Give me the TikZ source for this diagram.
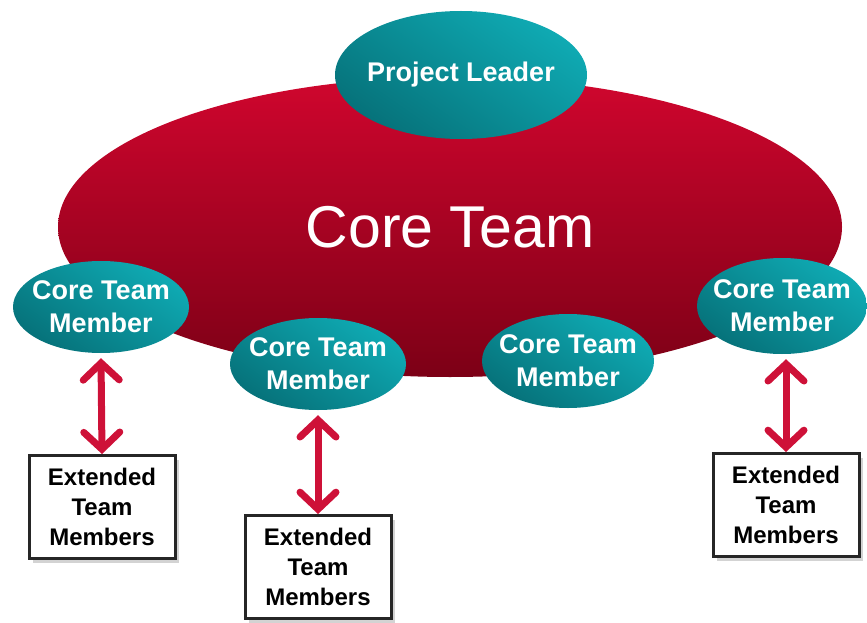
\documentclass[tikz,border=0pt]{standalone}
\usepackage{fontspec}
\setmainfont{Liberation Sans}
\usetikzlibrary{shapes.geometric,arrows.meta,shadows}

\definecolor{coreTop}{HTML}{D0062E}
\definecolor{coreBot}{HTML}{7C0016}
\definecolor{tealLight}{HTML}{0FAAB3}
\definecolor{tealDark}{HTML}{06727A}
\definecolor{linkRed}{HTML}{CE1138}

\tikzset{
  teal/.style={ellipse,inner xsep=-14pt,inner ysep=0pt,text=white,align=center,
    top color=tealLight,bottom color=tealDark,shading angle=-35},
  member/.style={teal,minimum width=176pt,minimum height=92pt,
    font=\fontsize{27}{33}\selectfont\bfseries},
  extbox/.style={draw=black!85,line width=3pt,fill=white,align=center,
    minimum width=146pt,minimum height=103pt,inner sep=0pt,
    font=\fontsize{24}{30}\selectfont\bfseries,
    drop shadow={opacity=0.35,shadow xshift=4pt,shadow yshift=-4pt}},
  link/.style={linkRed,line width=7pt,
    {Straight Barb[length=17pt,width=36pt,line cap=round]}-{Straight Barb[length=17pt,width=36pt,line cap=round]}}
}

\begin{document}
\begin{tikzpicture}[x=1pt,y=-1pt]
  \useasboundingbox (0,0) rectangle (867,623);

  % the big core ellipse
  \node[ellipse,inner sep=0pt,minimum width=784pt,minimum height=300pt,
    top color=coreTop,bottom color=coreBot,text=white,
    font=\fontsize{59}{62}\selectfont] (core) at (450,227) {Core Team};

  \node[teal,inner xsep=-30pt,minimum width=252pt,minimum height=128pt,
    font=\fontsize{27}{33}\selectfont\bfseries] (lead) at (461,75) {Project Leader};

  \node[member] (m1) at (101,307) {Core Team\\Member};
  \node[member] (m2) at (318,364) {Core Team\\Member};
  \node[member,minimum width=172pt,minimum height=94pt] (m3) at (568,361) {Core Team\\Member};
  \node[member,minimum width=170pt,minimum height=96pt] (m4) at (782,306) {Core Team\\Member};

  \node[extbox] (x1) at (102,507) {Extended\\Team\\Members};
  \node[extbox] (x2) at (318,567) {Extended\\Team\\Members};
  \node[extbox] (x3) at (786,505) {Extended\\Team\\Members};

  \draw[link] (m1.south) ++(0,5) coordinate (a1) (a1) -- (x1.north);
  \draw[link] (m2.south) ++(0,5) coordinate (a2) (a2) -- (x2.north);
  \draw[link] (x3.north |- m4.south) ++(0,5) coordinate (a3) (a3) -- (x3.north);
\end{tikzpicture}
\end{document}
